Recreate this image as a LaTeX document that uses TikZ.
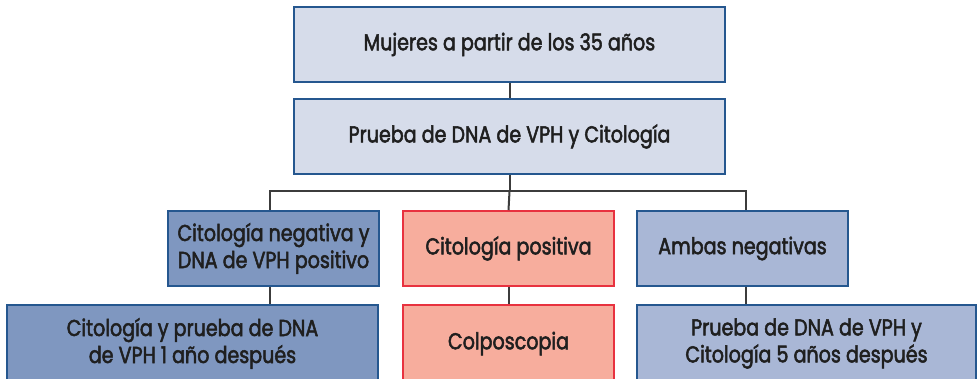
\documentclass[tikz,border=0pt]{standalone}
\usepackage{fontspec}
\setmainfont{Poppins}[FakeStretch=0.83, FakeBold=2.2]
\usetikzlibrary{calc}
\definecolor{topfill}{HTML}{D6DCEA}
\definecolor{blueborder}{HTML}{25578F}
\definecolor{leftfill}{HTML}{7F97C0}
\definecolor{rightfill}{HTML}{A9B7D6}
\definecolor{midfill}{HTML}{F7AD9D}
\definecolor{redborder}{HTML}{E8323F}
\definecolor{linkgray}{HTML}{3C3C3C}
\tikzset{
  box/.style={draw, line width=0.8pt, inner sep=0pt, align=center,
    font=\fontsize{11.5}{13.5}\selectfont\color{black!88}},
  topbox/.style={box, fill=topfill, draw=blueborder, minimum width=215.5pt, minimum height=37.5pt},
  leftbox/.style={box, fill=leftfill, draw=blueborder},
  rightbox/.style={box, fill=rightfill, draw=blueborder},
  midbox/.style={box, fill=midfill, draw=redborder},
  small/.style={minimum width=105.5pt, minimum height=37.5pt},
  link/.style={draw=linkgray, line width=1pt}
}
\begin{document}
\begin{tikzpicture}[x=0.5pt,y=-0.5pt]
\useasboundingbox (0,0) rectangle (977,379);
\clip (0,0) rectangle (977,379);
\node[topbox] (top) at (509.5,44.5) {Mujeres a partir de los 35 años};
\node[topbox] (test) at (509.5,136.5) {Prueba de DNA de VPH y Citología};
\node[leftbox,small] (l1) at (273.5,248.5) {Citología negativa y\\DNA de VPH positivo};
\node[midbox,small] (m1) at (508.5,248.5) {Citología positiva};
\node[rightbox,small] (r1) at (742.5,248.5) {Ambas negativas};
\node[leftbox, minimum width=185.5pt, minimum height=38.5pt] (l2) at (192.5,343.5) {Citología y prueba de DNA\\de VPH 1 año después};
\node[midbox, minimum width=105.5pt, minimum height=38.5pt] (m2) at (508.5,343.5) {Colposcopia};
\node[rightbox, minimum width=169.5pt, minimum height=38.5pt] (r2) at (806.5,343.5) {Prueba de DNA de VPH y\\Citología 5 años después};
\coordinate (split) at ($(test.south)+(0,16.5)$);
\draw[link] (top.south) -- (test.north);
\draw[link] (test.south) -- (split);
\draw[link] (split) -| ($(l1.north)+(-3.5,0)$);
\draw[link] (split) -| ($(r1.north)+(3.5,0)$);
\draw[link] (split) -- (m1.north);
\draw[link] ($(l1.south)+(-3.5,0)$) -- ($(l2.north)+(77.5,0)$);
\draw[link] (m1.south) -- (m2.north);
\draw[link] ($(r1.south)+(3.5,0)$) -- ($(r2.north)+(-60.5,0)$);
\end{tikzpicture}
\end{document}
